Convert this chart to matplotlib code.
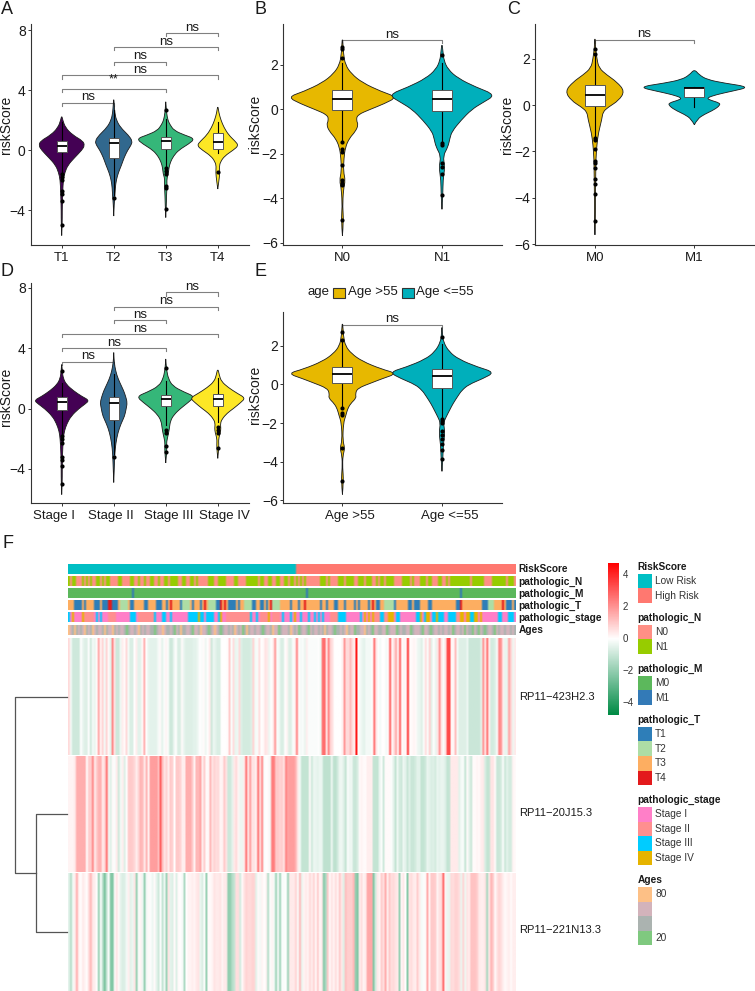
# -*- coding: utf-8 -*-
# riskScore violins per clinical group (A-E) and lncRNA heatmap (F)

import numpy as np
import matplotlib
matplotlib.use("Agg")
import matplotlib.pyplot as plt
from matplotlib.colors import LinearSegmentedColormap, ListedColormap, Normalize
from matplotlib.patches import PathPatch, Rectangle
from matplotlib.path import Path
from matplotlib.transforms import ScaledTranslation

plt.rcParams["font.family"] = ["Liberation Sans", "DejaVu Sans"]

#%% Violin data: score level / half width, box stats, outliers

t1_y = [-5.7, -5, -4, -3.4, -2.8, -2, -1.5, -1, -.5, 0, .3, .6, 1, 1.5, 2, 2.3]
t1_w = [0, .01, .01, .015, .02, .03, .06, .12, .25, .39, .44, .41, .21, .07, .02, 0]
t2_y = [-4.4, -3.5, -3.2, -2.5, -2, -1.5, -1, -.5, 0, .3, .6, 1, 1.5, 2, 2.5, 3, 3.5]
t2_w = [0, .01, .02, .03, .05, .09, .15, .2, .27, .33, .36, .28, .13, .05, .02, .01, 0]
t3_y = [-4.5, -3.8, -3, -2.4, -1.9, -1.6, -1.2, -.8, -.4, 0, .4, .75, 1, 1.3, 1.7, 2, 2.5, 3, 3.3]
t3_w = [0, .01, .015, .025, .02, .05, .06, .09, .15, .25, .44, .56, .36, .16, .08, .04, .015, .005, 0]
t4_y = [-2.6, -2.1, -1.5, -1.1, -.8, -.4, 0, .3, .6, 1, 1.5, 2, 2.5, 3]
t4_w = [0, .02, .04, .03, .05, .13, .3, .40, .33, .21, .12, .06, .02, 0]
t_labels = ["T1", "T2", "T3", "T4"]
t_box = [(-1.5, -.16, .3, .63, 1.9), (-3, -.52, .47, .83, 2.7), (-1.1, .07, .6, .85, 2.1), (-.2, .1, .55, 1.12, 1.9)]
t_out = [[-1.6, -1.8, -2, -2.7, -2.9, -3.4, -5], [-3.2], [2.7, -1.2, -1.4, -1.6, -2.4, -2.5, -3.9], [-1.45]]
t_sig = [(1, 2, 3.15, "ns"), (1, 3, 4.07, "**"), (1, 4, 4.97, "ns"), (2, 3, 5.9, "ns"), (2, 4, 6.85, "ns"), (3, 4, 7.8, "ns")]

s1_y = [-5.7, -5, -4, -3, -2, -1.5, -1, -.5, 0, .3, .55, .8, 1.2, 1.6, 2, 2.5, 3.1]
s1_w = [0, .01, .01, .015, .03, .05, .1, .18, .33, .45, .53, .39, .22, .09, .03, .01, 0]
s2_y = [-4.9, -4, -3, -2.3, -1.6, -1, -.5, 0, .4, .8, 1.2, 1.7, 2.2, 2.8, 3.3, 3.9]
s2_w = [0, .01, .02, .04, .08, .14, .21, .24, .26, .23, .19, .12, .06, .02, .005, 0]
s3_y = [-3.6, -3, -2.6, -2.2, -1.7, -1.3, -.8, -.4, 0, .4, .8, 1.1, 1.5, 2, 2.5, 3, 3.4]
s3_w = [0, .015, .02, .015, .05, .07, .09, .16, .28, .43, .56, .35, .13, .05, .02, .005, 0]
s4_y = [-3.3, -2.8, -2.4, -2, -1.6, -1.3, -1, -.7, -.3, 0, .4, .7, 1, 1.4, 1.8, 2.2, 2.7]
s4_w = [0, .015, .02, .015, .05, .06, .05, .08, .18, .3, .44, .53, .38, .2, .07, .03, 0]
s_labels = ["Stage I", "Stage II", "Stage III", "Stage IV"]
s_box = [(-1.7, -.1, .47, .77, 1.7), (-3, -.77, .35, .8, 2.3), (-1.1, .15, .65, .9, 1.8), (-.9, .2, .65, 1, 2)]
s_out = [[2.5, -1.8, -2, -2.3, -3.2, -3.4, -3.8, -5], [-3.2], [2.7, -1.4, -1.6, -2.5, -2.9], [-1.2, -1.4, -1.6, -2.6]]
s_sig = [(1, 2, 3.12, "ns"), (1, 3, 4.02, "ns"), (1, 4, 4.95, "ns"), (2, 3, 5.87, "ns"), (2, 4, 6.77, "ns"), (3, 4, 7.7, "ns")]

n0_y = [-5.7, -5, -4.4, -3.6, -3.2, -2.8, -2.2, -1.7, -1.3, -1, -.7, -.5, -.25, 0, .25, .55, .8, 1.2, 1.6, 2, 2.5, 3.4]
n0_w = [0, .012, .002, .01, .03, .01, .015, .03, .07, .13, .16, .14, .15, .28, .42, .55, .39, .2, .09, .03, .01, 0]
n1_y = [-4.5, -3.8, -3.2, -2.6, -2.1, -1.7, -1.3, -1, -.5, 0, .3, .65, 1, 1.4, 1.8, 2.2, 2.6, 3]
n1_w = [0, .01, .01, .03, .01, .06, .08, .1, .19, .3, .41, .54, .34, .16, .06, .02, .01, 0]
n_labels = ["N0", "N1"]
n_box = [(-1.4, -.03, .47, .85, 2.1), (-1.5, -.07, .47, .85, 2.1)]
n_out = [[2.8, 2.7, 2.3, -1.45, -1.8, -1.9, -2.5, -3.2, -3.3, -3.4, -5], [2.45, -1.5, -1.6, -2.4, -2.6, -2.9, -3.85]]
n_sig = [(1, 2, 3.12, "ns")]

m0_y = [-5.6, -5, -4, -3, -2.3, -1.7, -1.2, -.6, -.3, -.1, .2, .6, 1, 1.3, 1.6, 2, 2.5, 3]
m0_w = [0, .005, .005, .008, .01, .02, .035, .07, .08, .13, .24, .3, .22, .12, .04, .02, .005, 0]
m1_y = [-.85, -.6, -.4, -.2, 0, .1, .2, .3, .45, .6, .78, .95, 1.1, 1.3, 1.55]
m1_w = [0, .03, .1, .2, .26, .25, .17, .12, .22, .38, .56, .3, .13, .05, 0]
m_labels = ["M0", "M1"]
m_box = [(-1.4, -.03, .45, .85, 2.2), (-.1, .33, .75, .78, .8)]
m_out = [[2.4, 2.2, -1.4, -1.5, -1.9, -2.4, -2.5, -2.7, -3.2, -3.4, -3.85, -5], []]
m_sig = [(1, 2, 2.82, "ns")]

a0_y = [-5.7, -5, -4.3, -3.7, -3.3, -2.9, -2, -1.6, -1.3, -1, -.7, -.5, -.2, .1, .3, .57, .8, 1.2, 1.6, 2, 2.5, 3.4]
a0_w = [0, .012, .002, .004, .025, .003, .01, .035, .05, .08, .14, .13, .15, .3, .4, .55, .39, .2, .09, .03, .01, 0]
a1_y = [-4.5, -3.8, -3.2, -2.5, -2, -1.7, -1.3, -1, -.6, -.3, 0, .3, .63, .9, 1.3, 1.7, 2.2, 2.6, 3.1]
a1_w = [0, .01, .012, .03, .015, .04, .08, .11, .16, .2, .27, .41, .53, .36, .17, .07, .015, .005, 0]
a_labels = ["Age >55", "Age <=55"]
a_box = [(-1.2, .07, .53, .9, 2.2), (-1.7, -.2, .45, .8, 2.1)]
a_out = [[2.7, 2.3, -1.2, -1.5, -1.6, -3.3, -5], [2.45, -1.8, -1.9, -2, -2.4, -2.6, -2.8, -3.1, -3.4, -3.85]]
a_sig = [(1, 2, 3.1, "ns")]

viridis4 = ["#440154", "#31688E", "#35B779", "#FDE725"]
jco2 = ["#E7B800", "#00AFBB"]

#%% Heatmap data, one value per sample (read by eye column by column)

gene_names = ["RP11\u2212423H2.3", "RP11\u221220J15.3", "RP11\u2212221N13.3"]

gene1 = [.7, -.2, -.9, -.9, -.9, -.9, 0, -.4, -.6, -.6, 0, -.9, -.2, -.4, .1, 1.6, .2, .8, -.2, .8,
         .1, -.5, 2.2, .5, -.9, -.9, -.3, .3, .1, .7, -.2, -.7, -.7, 0, .3, -.5, -.5, .1, 1.5, 0,
         -.4, -.5, -.5, -.5, -.5, -.2, .1, -.5, -.1, .2, -.1, -.9, -.9, -.3, 0, -.7, -.7, .1, -.4, -.6,
         -.6, -.6, -.6, -.5, -.5, -.3, 0, -.1, .1, -.3, 0, .4, -.9, -.3,
         -.5, -.7, -.7, 0, 0, 0, .1, 1, -.1, .6, -.4, -.3, .7, -.6, -.8, -.8, -.8, -.8, -.6, .8,
         -.2, -.1, .6, 0, .1, .5, .4, -.3, 0, .3, 1.9, -.1, -.2, -.7, -.7, 0, .2, -.6, -.6, -.1,
         .2, 2.3, 0, -.2, -.1, -.4, .3, -.1, -.1, -.1, -.1, -.1, 0, -.3, 2.7, 2.7, .4, 2.3, .8, .5,
         0, 0, 0, 0, .3, 1.9, .7, .7, 1.2, .6, .2, 4.5, 0, -.2, -.4, -.5,
         -.2, -.2, -.2, 0, 2.6, .5, 0, -.2, 0, 0, -.2, .1, 3, .1, .6, 1.6, .1, 3, 0, .2,
         .1, 3.8, 0, .1, .2, .1, -.3, -.4, -.6, -.1, .6, -.1, .9, -.5, 0, -.4, .5, 2, .4, -.1,
         .6, 3.4, 3.4, .1, .2, 1.2, -.2, -.6, -.6, -.6, -.6, -.3, -1, -1, -1, -1, -1, -1, -.5, 2,
         .4, 2.6, .3, -.8, -.8, -.6, -.1, 2.2, 2, .3, -.4, -.4, 1.7, .8, -.3, .4]

gene2 = [.2, .2, .2, .4, 1.5, 1.5, 1.5, 1.5, 1.5, 0, .9, .9, 2.2, .3, 1, 1.4, 1.4, .3, .8, 2.6,
         -.2, -.6, .1, -.1, .4, -.9, -.2, .3, -.6, 0, 1, 1, .9, .7, .3, .8, 1.4, 1.2, .4, 1.4,
         .2, 1.8, 1.8, 1.8, 1.8, 1.2, 3, 1.2, .5, .8, .3, 1, .8, 0, 1, 1, .8, .3, .3, 1.5,
         1.5, 1.5, 1, .2, 1.3, 1.3, 1.7, .3, .9, .1, .1, 1.3, .5, .8,
         .6, .7, .2, .2, 1, .5, -.9, -.9, -.5, .4, .7, .2, -.3, -.3, .3, 2.6, .4, 1.8, .5, .5,
         .2, 2.6, .5, 2.2, -.1, 0, .1, -.2, 2.4, 2.4, 1, 1, .8, .9, .5, 2.3, 1.7, 1.8, 1.8, 1.8,
         1.3, .4, -.2, -1.1, -1.1, -1.1, -1.1, .1, -.9, -.3, -.4, -.5, -.3, -.4, -1.2, -1.2, -1.2, -1.2, -.3, -1.2,
         -1.2, -.8, -.3, -.3, -.6, -1.1, -.1, -.3, -.3, -1, -1, -.7, .1, .2, .1,
         .1, .3, .3, .3, -1.1, -1.1, -1.1, -.4, -.1, -.9, .1, .1, .1, -.1, -.5, -1.1, -.3, -.8, -.9, -.3,
         -.5, -1, -.6, -1, -1, -.8, -.5, -.5, -1.1, -1.1, -.9, -.4, -.5, -.7, -.6, -.8, -.4, -.5, -.4, -.4,
         -.6, -1.1, -1.1, .4, .4, .4, .4, -.5, -.2, -.1, -1.1, .1, -.5, -1, .1, .1, .2, .1, .3, .4,
         -.7, -1.1, -1.1, .5, .5, .1, -1, -1, -.8, -.1, -1, -.5, -.8, -.8, .2, .1]

gene3 = [-.5, -1.4, -.2, .3, 1.5, .2, 0, .4, .2, 0, .7, 1.3, .4, .3, 0, -1.9, 0, -1.4, -2.5, -1,
         0, -2.3, -2.3, .1, .5, .1, -.5, -.7, -.6, -.2, .3, -.5, -.3, .5, -1.9, -.1, .2, -.4, -2, -.2,
         .1, -.1, -.3, .1, -.5, -.9, -.1, -1.1, -.3, -1.8, .5, -.5, -.6, .1, -.6, .1, 0, -.2, -1.5, 0,
         .2, .2, .3, .2, .4, .5, -.4, -.7, 0, -2, .1, .1, .2, .5,
         .4, .4, .5, .2, .4, .4, -2, -2, -1.4, -1.1, .6, .6, -.8, .1, .5, .8, .7, .7, .8, .8,
         -.5, .1, -.2, .2, 0, .2, -1.4, -.1, .2, -.2, -1.8, -.1, -1.8, -.1, -.1, 0, -1.8, .4, .4, .4,
         .8, -.1, 1.3, -.4, .2, .4, .2, .7, .3, .8, .1, 1, .1, .4, -2.2, -1.5, 1, .1, .5, .2,
         .6, .2, 1, .4, -.6, 1.2, .9, .9, .9, 1.3, -2, -2.3, .3, .6, .2,
         .4, 1.6, 1.6, 1.6, -2.3, -.8, .4, .2, .9, .6, 1.5, .3, 1, .6, .7, .5, .4, -1.9, .2, .4,
         0, -2.2, .5, .6, .4, .3, .9, .4, -.2, -.1, .1, 1.6, .2, 1, 1, .9, .2, .5, .6, 2.8,
         .2, -.3, -.4, .7, .6, .8, .8, .6, -.4, .8, -.3, .5, .3, 1.1, 1.1, 1.1, .9, .4, .3, .3,
         .5, -1.6, .4, 1.4, 1, .1, .5, .8, .6, .3, .1, .2, .3, .1, .3, .3]

#%% Annotation tracks: columns that differ from the commonest class

n_samples = 224
low_risk_count = 114
n1_cols = [0, 2, 3, 7, 9, 11, 14, 15, 17, 19, 20, 25, 26, 31, 32, 35, 38, 41, 42, 45, 48, 49, 51, 52, 53, 54,
           57, 58, 61, 62, 64, 70, 71, 72, 75, 76, 77, 78, 83, 84, 89, 90, 91, 92, 93, 94, 96, 97, 100, 101,
           104, 105, 108, 109, 111, 112, 114, 116, 118, 126, 127, 128, 130, 135, 136, 137, 139, 140, 141, 142,
           145, 146, 147, 149, 150, 151, 154, 156, 157, 159, 160, 161, 162, 167, 168, 169, 170, 172, 176, 177,
           178, 180, 181, 185, 186, 189, 191, 192, 193, 194, 195, 196, 197, 198, 199, 200, 202, 203, 204, 205,
           206, 207, 212, 213, 214, 215, 216, 217, 218, 220, 221, 222]
m1_cols = [32, 119, 196]
t1_cols = [3, 4, 5, 6, 8, 13, 14, 15, 17, 18, 19, 22, 23, 24, 31, 32, 38, 39, 44, 45, 46, 49, 56, 62, 66, 74, 75,
           80, 81, 82, 83, 85, 92, 93, 96, 97, 99, 111, 115, 126, 129, 133, 134, 138, 143, 145, 150, 154, 155,
           163, 170, 171, 173, 174, 175, 180, 181, 194, 195, 207, 208, 209, 219, 220, 221, 223]
t2_cols = [26, 27, 28, 29, 57, 58, 59, 60, 70, 71, 72, 73, 88, 89, 90, 91, 102, 103, 104, 105, 158, 159, 160, 161,
           162, 210, 211, 212]
t4_cols = [20, 21, 51, 68, 76, 78, 101, 118, 152, 196, 217]
s2_cols = [8, 9, 10, 11, 12, 20, 21, 22, 23, 35, 36, 37, 38, 39, 40, 41, 42, 79, 80, 81, 82, 83, 84, 85, 86, 87,
           88, 89, 90, 96, 97, 98, 99, 102, 103, 104, 105, 131, 132, 133, 134, 158, 159, 160, 161, 153, 154, 155,
           193, 194, 195]
s3_cols = [0, 14, 16, 31, 32, 33, 43, 47, 48, 51, 60, 61, 62, 63, 64, 66, 67, 69, 70, 71, 72, 75, 91, 94, 107, 111,
           116, 120, 123, 125, 127, 135, 136, 137, 138, 146, 156, 157, 164, 165, 174, 175, 178, 182, 183, 185,
           186, 187, 190, 191, 192, 193, 201, 202, 215, 216, 220, 221, 222]
s4_cols = [2, 7, 65, 76, 100, 113, 148, 150, 152, 160, 161, 162, 176, 179, 180, 184, 196, 197, 199, 200, 203, 204, 206]
ages = [80, 60, 40, 80, 40, 60, 40, 60, 80, 40, 60, 40, 80, 60, 40, 60, 60, 40, 80, 40, 60, 60, 80, 40, 60, 40, 60, 60,
        40, 20, 40, 60, 60, 40, 60, 80, 40, 60, 40, 60, 60, 40, 40, 20, 40, 60, 60, 80, 60, 40, 40, 60, 40, 20, 60, 40,
        80, 40, 40, 60, 60, 40, 20, 60, 60, 40, 80, 60, 60, 40, 20, 40, 60, 80, 60, 40, 20, 40, 60, 60, 40, 60, 40, 80,
        60, 40, 60, 20, 40, 80, 40, 60, 60, 40, 60, 60, 40, 20, 40, 60, 60, 40, 80, 60, 60, 20, 40, 60, 60, 60, 40, 80,
        60, 40, 60, 20, 40, 60, 60, 40, 20, 60, 40, 60, 60, 40, 60, 40, 80, 40, 60, 60, 40, 20, 40, 40, 60, 40, 60, 80,
        40, 60, 60, 20, 40, 40, 60, 60, 80, 40, 60, 40, 20, 60, 60, 40, 40, 60, 60, 20, 40, 60, 60, 60, 20, 40, 60, 40,
        40, 60, 60, 20, 40, 60, 60, 60, 40, 20, 60, 60, 40, 20, 40, 60, 60, 40, 60, 40, 60, 60, 40, 60, 20, 40, 60, 60,
        40, 60, 20, 60, 40, 40, 20, 60, 40, 20, 60, 40, 20, 40, 60, 60, 40, 20, 60, 40, 60, 60, 40, 60, 60, 40, 60, 40]

risk_colors = ["#00BFC4", "#FF7870"]
n_colors = ["#FF8F85", "#97CC00"]
m_colors = ["#5CB85C", "#337AB7"]
t_colors = ["#2E7EB8", "#ADDDA5", "#FDAE61", "#E31A1C"]
stage_colors = ["#FF7FC8", "#FF8F8F", "#00CCFF", "#E6B400"]
age_colors = ["#7FC97F", "#ABB3B0", "#D3B3BB", "#FDC086"]

legend_groups = [("RiskScore", ["Low Risk", "High Risk"], risk_colors),
                 ("pathologic_N", ["N0", "N1"], n_colors),
                 ("pathologic_M", ["M0", "M1"], m_colors),
                 ("pathologic_T", ["T1", "T2", "T3", "T4"], t_colors),
                 ("pathologic_stage", ["Stage I", "Stage II", "Stage III", "Stage IV"], stage_colors),
                 ("Ages", ["80", "", "", "20"], age_colors[::-1])]

#%% Helpers

W, H = 755, 991
fig = plt.figure(figsize=(W / 100, H / 100), dpi=100)


def ax_px(left, top, right, bottom):
    return fig.add_axes([left / W, 1 - bottom / H, (right - left) / W, (bottom - top) / H])


def violin(ax, pos, ys, ws, color):
    # outline through the library's quadratic path segments, up one side and down the other
    pts = [(pos + w, y) for y, w in zip(ys, ws)] + [(pos - w, y) for y, w in zip(ys[-2::-1], ws[-2::-1])]
    verts = [pts[0]]
    codes = [Path.MOVETO]
    for i in range(1, len(pts) - 1):
        end = pts[i + 1] if i == len(pts) - 2 else ((pts[i][0] + pts[i + 1][0]) / 2, (pts[i][1] + pts[i + 1][1]) / 2)
        verts += [pts[i], end]
        codes += [Path.CURVE3, Path.CURVE3]
    ax.add_patch(PathPatch(Path(verts, codes), fc=color, ec="#1a1a1a", lw=.6, zorder=2))


def violin_panel(rect, ylim, yticks, labels, profiles, boxes, outliers, sig, colors, letter, ylab_xy, label_shift=None):
    ax = ax_px(*rect)
    for i, (ys, ws) in enumerate(profiles):
        violin(ax, i + 1, ys, ws, colors[i])
    for i, (lo, q1, med, q3, hi) in enumerate(boxes):
        c = i + 1
        ax.plot([c, c], [lo, hi], color="k", lw=.8, zorder=3)
        ax.add_patch(Rectangle((c - .1, q1), .2, q3 - q1, fc="white", ec="#555555", lw=.7, zorder=4))
        ax.plot([c - .1, c + .1], [med, med], color="k", lw=1.3, solid_capstyle="butt", zorder=5)
        ax.plot([c] * len(outliers[i]), outliers[i], "o", color="k", ms=3, mew=0, zorder=5)
    for a, b, y, txt in sig:
        tip = (ylim[1] - ylim[0]) * .014
        ax.plot([a, a, b, b], [y - tip, y, y, y - tip], color="#808080", lw=.8, zorder=1, clip_on=False)
        off, size = (3.9, 9.5) if txt == "ns" else (7, 9)
        ax.annotate(txt, ((a + b) / 2, y), xytext=(0, off), textcoords="offset points",
                    ha="center", va="center", fontsize=size, color="#1a1a1a", zorder=6)
    ax.set_xlim(.4, len(labels) + .6)
    ax.set_ylim(*ylim)
    ax.set_xticks(range(1, len(labels) + 1))
    ax.set_xticklabels(labels)
    ax.set_yticks(yticks)
    ax.set_yticklabels([str(t).replace("-", "\u2212") for t in yticks])
    ax.tick_params(labelsize=9.5, length=2, width=.7, color="#333333", labelcolor="#1a1a1a")
    ax.tick_params(axis="x", pad=3)
    ax.tick_params(axis="y", labelsize=10, pad=1.5)
    for side in ["top", "right"]:
        ax.spines[side].set_visible(False)
    for side in ["left", "bottom"]:
        ax.spines[side].set_linewidth(.8)
        ax.spines[side].set_color("#333333")
    # the x labels sit off their ticks in some panels
    if label_shift:
        for lab, dx in zip(ax.get_xticklabels(), label_shift):
            lab.set_transform(lab.get_transform() + ScaledTranslation(dx / 100, 0, fig.dpi_scale_trans))
    ax.set_ylabel("riskScore", fontsize=10, color="#1a1a1a")
    ax.yaxis.set_label_coords((ylab_xy[0] - rect[0]) / (rect[2] - rect[0]), (rect[3] - ylab_xy[1]) / (rect[3] - rect[1]))
    fig.text(letter[0] / W, 1 - letter[1] / H, letter[2], fontsize=13, va="center", ha="left", color="#1a1a1a")
    return ax


def track(top, bottom, values, cmap, norm):
    ax = ax_px(67.5, top, 515, bottom)
    ax.imshow(np.atleast_2d(values), aspect="auto", cmap=cmap, norm=norm,
              interpolation="bilinear", interpolation_stage="rgba")
    ax.axis("off")
    return ax


#%% Panels A-E

violin_panel((30.5, 24, 249, 245), (-6.33, 8.4), [-4, 0, 4, 8], t_labels,
             [(t1_y, t1_w), (t2_y, t2_w), (t3_y, t3_w), (t4_y, t4_w)], t_box, t_out, t_sig, viridis4, (1, 9, "A"),
             (13, 124.5))
violin_panel((30.5, 283, 249, 503), (-6.26, 8.33), [-4, 0, 4, 8], s_labels,
             [(s1_y, s1_w), (s2_y, s2_w), (s3_y, s3_w), (s4_y, s4_w)], s_box, s_out, s_sig, viridis4, (1, 272, "D"),
             (13, 397), [-8, -3, 2.5, 7])
violin_panel((282.7, 24, 501.7, 245.3), (-6.12, 3.84), [-6, -4, -2, 0, 2], n_labels,
             [(n0_y, n0_w), (n1_y, n1_w)], n_box, n_out, n_sig, jco2, (254, 9, "B"), (262.5, 124))
violin_panel((535.3, 24, 754, 245.3), (-6.05, 3.5), [-6, -4, -2, 0, 2], m_labels,
             [(m0_y, m0_w), (m1_y, m1_w)], m_box, m_out, m_sig, jco2, (507, 9, "C"), (513.5, 125))
violin_panel((282.7, 311.7, 501.7, 503), (-6.14, 3.77), [-6, -4, -2, 0, 2], a_labels,
             [(a0_y, a0_w), (a1_y, a1_w)], a_box, a_out, a_sig, jco2, (254, 272, "E"), (262.5, 395), [7.5, 8])

fig.text(2 / W, 1 - 543 / H, "F", fontsize=13, va="center", ha="left", color="#1a1a1a")

#%% Everything laid out in pixels: panel E legend, heatmap legends and labels

page = fig.add_axes([0, 0, 1, 1], zorder=-1)
page.set_xlim(0, W)
page.set_ylim(H, 0)
page.axis("off")

page.text(307, 291.5, "age", fontsize=9.5, va="center", color="#1a1a1a")
x_pos = [333, 402]
for x, lab, col in zip(x_pos, a_labels, jco2):
    page.add_patch(Rectangle((x, 287.5), 11.5, 10.5, fc=col, ec="#333333", lw=.8))
    page.text(x + 14.5, 291.5, lab, fontsize=9.5, va="center", color="#1a1a1a")

#%% Panel F tracks and body

heat_cmap = LinearSegmentedColormap.from_list("heat", ["#008B45", "#FFFFFF", "#FF0000"])
heat_norm = Normalize(-4.75, 4.75)

risk_codes = np.array([0] * low_risk_count + [1] * (n_samples - low_risk_count))
n_codes = np.zeros(n_samples, dtype=int)
n_codes[n1_cols] = 1
m_codes = np.zeros(n_samples, dtype=int)
m_codes[m1_cols] = 1
t_codes = np.full(n_samples, 2)
t_codes[t2_cols] = 1
t_codes[t1_cols] = 0
t_codes[t4_cols] = 3
stage_codes = np.zeros(n_samples, dtype=int)
stage_codes[s2_cols] = 1
stage_codes[s3_cols] = 2
stage_codes[s4_cols] = 3

track(564, 574, risk_codes, ListedColormap(risk_colors), Normalize(0, 1))
track(576, 586, n_codes, ListedColormap(n_colors), Normalize(0, 1))
track(588, 598, m_codes, ListedColormap(m_colors), Normalize(0, 1))
track(600, 610, t_codes, ListedColormap(t_colors), Normalize(0, 3))
track(612.3, 622.3, stage_codes, ListedColormap(stage_colors), Normalize(0, 3))
track(624.7, 634.7, ages, LinearSegmentedColormap.from_list("ages", age_colors), Normalize(20, 80))

track(638, 754.8, gene1, heat_cmap, heat_norm)
track(755.5, 872.5, gene2, heat_cmap, heat_norm)
track(873, 990.5, gene3, heat_cmap, heat_norm)

track_names = ["RiskScore", "pathologic_N", "pathologic_M", "pathologic_T", "pathologic_stage", "Ages"]
for i, name in enumerate(track_names):
    page.text(518.7, 569.5 + i * 12.1, name, fontsize=7.3, fontweight="bold", va="center", color="#1a1a1a")
for y, name in zip([696.7, 813, 930], gene_names):
    page.text(518.7, y, name, fontsize=8, va="center", color="#1a1a1a")

# dendrogram, merge heights
dendro = ax_px(14.7, 638, 67.5, 990.5)
row_mid = [.5, 1.5, 2.5]
merge_low = .6
merge_root = 1.0
lower_mid = (row_mid[1] + row_mid[2]) / 2
dendro.plot([0, merge_low, merge_low, 0], [row_mid[1], row_mid[1], row_mid[2], row_mid[2]], color="#555555", lw=.9)
dendro.plot([0, merge_root, merge_root, merge_low], [row_mid[0], row_mid[0], lower_mid, lower_mid], color="#555555", lw=.9)
dendro.set_xlim(merge_root, 0)
dendro.set_ylim(3, 0)
dendro.axis("off")
for line in dendro.lines:
    line.set_clip_on(False)

# colour bar
cbar = ax_px(608, 562.7, 618.7, 715)
cbar.imshow(np.linspace(4.77, -4.75, 200)[:, None], aspect="auto", cmap=heat_cmap, norm=heat_norm)
cbar.axis("off")
for v, y in zip([4, 2, 0, -2, -4], [575, 607, 639, 671, 703]):
    page.text(622.7, y, str(v).replace("-", "\u2212"), fontsize=7, va="center", color="#333333")

# grouped legends
title_y = [566.7, 617.7, 668.7, 719.7, 800, 880]
for (title, labs, cols), ty in zip(legend_groups, title_y):
    page.text(637.7, ty, title, fontsize=7.3, fontweight="bold", va="center", color="#1a1a1a")
    for i, (lab, col) in enumerate(zip(labs, cols)):
        top = ty + 7 + i * 14.6
        page.add_patch(Rectangle((637.7, top), 14.4, 14.6, fc=col, ec="none"))
        page.text(655, top + 7.3, lab, fontsize=7.3, va="center", color="#333333")

fig.savefig("out.png", dpi=100)
